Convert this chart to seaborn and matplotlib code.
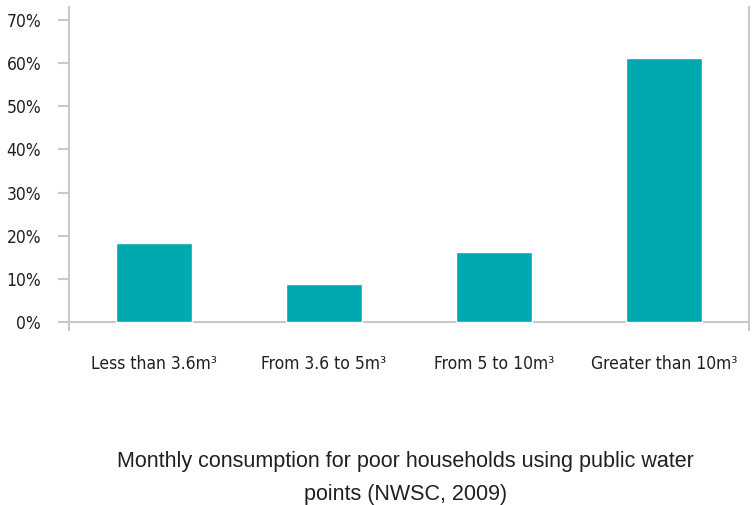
import numpy as np
import pandas as pd
import seaborn as sns
import matplotlib.pyplot as plt
from matplotlib.ticker import FuncFormatter

categories = ['Less than 3.6m³', 'From 3.6 to 5m³', 'From 5 to 10m³', 'Greater than 10m³']
shares = [18.4, 8.9, 16.3, 61.3]
y_ticks = [0, 10, 20, 30, 40, 50, 60, 70]
title = 'Monthly consumption for poor households using public water\npoints (NWSC, 2009)'

df = pd.DataFrame({'Consumption': categories, 'Share': shares})

sns.set_style('white')
plt.rcParams['font.family'] = ['DejaVu Sans']
plt.rcParams['font.stretch'] = 'condensed'

grey = '#c8c8c8'
ink = '#231f20'

fig = plt.figure(figsize=(7.53, 5.05), dpi=100)
ax = fig.add_axes([0.0916, 0.3465, 0.9031, 0.6395])
sns.barplot(data=df, x='Consumption', y='Share', color='#00a8b0', width=0.45,
            saturation=1, ax=ax)

ax.set_ylim(-1.85, 73)
ax.set_yticks(y_ticks)
ax.yaxis.set_major_formatter(FuncFormatter(lambda v, p: f'{v:.0f}%'))
ax.axhline(0, color=grey, lw=1.5, zorder=0)
ax.set_xlabel('')
ax.set_ylabel('')

for side in ['top', 'bottom']:
    ax.spines[side].set_visible(False)
for side in ['left', 'right']:
    ax.spines[side].set_color(grey)
    ax.spines[side].set_linewidth(1.5)

ax.tick_params(axis='y', length=8, width=1.5, color=grey, labelsize=12.5,
               labelcolor=ink, pad=12, left=True)
ax.tick_params(axis='x', length=0, labelsize=12.5, labelcolor=ink, pad=18)

fig.text(0.538, 0.0535, title, ha='center', va='center', fontsize=15.5,
         color=ink, family=['Liberation Sans', 'DejaVu Sans'],
         stretch='normal', linespacing=1.8)

fig.savefig('out.png', dpi=100)
